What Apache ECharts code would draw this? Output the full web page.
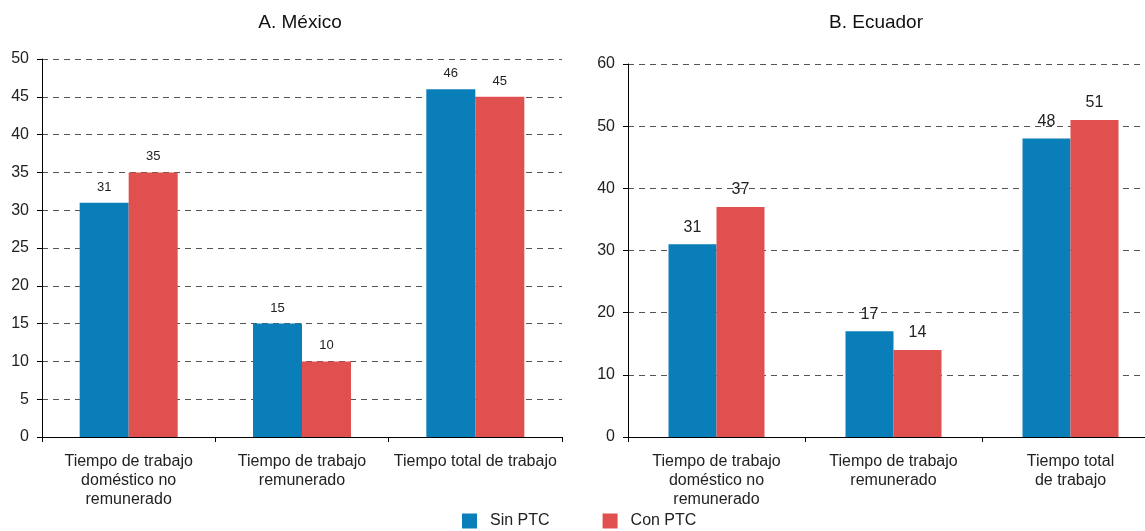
<!DOCTYPE html>
<html>
<head>
<meta charset="utf-8">
<script src="https://cdn.jsdelivr.net/npm/echarts@6/dist/echarts.min.js"></script>
<style>
  html, body { margin: 0; padding: 0; background: #fff; }
  #chart { width: 1145px; height: 531px; }
</style>
</head>
<body>
<div id="chart"></div>
<script>
// datos
const categoriesMx = ['Tiempo de trabajo\ndoméstico no\nremunerado', 'Tiempo de trabajo\nremunerado', 'Tiempo total de trabajo'];
const categoriesEc = ['Tiempo de trabajo\ndoméstico no\nremunerado', 'Tiempo de trabajo\nremunerado', 'Tiempo total\nde trabajo'];
const sinPtcMx = [31, 15, 46];
const conPtcMx = [35, 10, 45];
const sinPtcEc = [31, 17, 48];
const conPtcEc = [37, 14, 51];
const titles = ['A. México', 'B. Ecuador'];

const BLUE = '#0A7EB9';
const RED = '#E0504E';
const FONT = 'Liberation Sans, Arial, sans-serif';

const chart = echarts.init(document.getElementById('chart'));

const xAxisBase = (gridIndex, data) => ({
  type: 'category',
  gridIndex,
  data,
  axisLine: { lineStyle: { color: '#000', width: 1 } },
  axisTick: { show: true, length: 5, lineStyle: { color: '#000' } },
  axisLabel: { color: '#222', fontSize: 16, lineHeight: 19, margin: 15, interval: 0, fontFamily: FONT }
});

const yAxisBase = (gridIndex, max, interval) => ({
  type: 'value',
  gridIndex,
  min: 0,
  max,
  interval,
  axisLine: { show: true, lineStyle: { color: '#000', width: 1 } },
  axisTick: { show: true, length: 5, lineStyle: { color: '#000' } },
  axisLabel: { color: '#222', fontSize: 16, margin: 13, fontFamily: FONT },
  splitLine: { lineStyle: { color: '#555', type: [6, 5], width: 1 } }
});

const barSeries = (name, data, color, idx, fs) => ({
  name,
  type: 'bar',
  xAxisIndex: idx,
  yAxisIndex: idx,
  data,
  barWidth: idx === 0 ? 49 : 48,
  barGap: '0%',
  itemStyle: { color },
  label: { show: true, position: 'top', distance: 9, color: '#222', fontSize: fs, fontFamily: FONT }
});

chart.setOption({
  animation: false,
  textStyle: { fontFamily: FONT },
  title: [
    { text: titles[0], left: 295, top: 8, textAlign: 'center', textStyle: { fontSize: 19, fontWeight: 'normal', color: '#111', fontFamily: FONT } },
    { text: titles[1], left: 871, top: 8, textAlign: 'center', textStyle: { fontSize: 19, fontWeight: 'normal', color: '#111', fontFamily: FONT } }
  ],
  legend: {
    data: ['Sin PTC', 'Con PTC'],
    left: 457,
    top: 508,
    icon: 'rect',
    itemWidth: 15,
    itemHeight: 15,
    itemGap: 53,
    textStyle: { fontSize: 16, color: '#222', fontFamily: FONT, padding: [0, 0, 0, 8] }
  },
  grid: [
    { left: 42, top: 59, width: 520, height: 378, outerBoundsMode: 'none' },
    { left: 628, top: 64, width: 531, height: 373, outerBoundsMode: 'none' }
  ],
  xAxis: [xAxisBase(0, categoriesMx), xAxisBase(1, categoriesEc)],
  yAxis: [yAxisBase(0, 50, 5), yAxisBase(1, 60, 10)],
  series: [
    barSeries('Sin PTC', sinPtcMx, BLUE, 0, 13),
    barSeries('Con PTC', conPtcMx, RED, 0, 13),
    barSeries('Sin PTC', sinPtcEc, BLUE, 1, 16),
    barSeries('Con PTC', conPtcEc, RED, 1, 16)
  ]
});
</script>
</body>
</html>
